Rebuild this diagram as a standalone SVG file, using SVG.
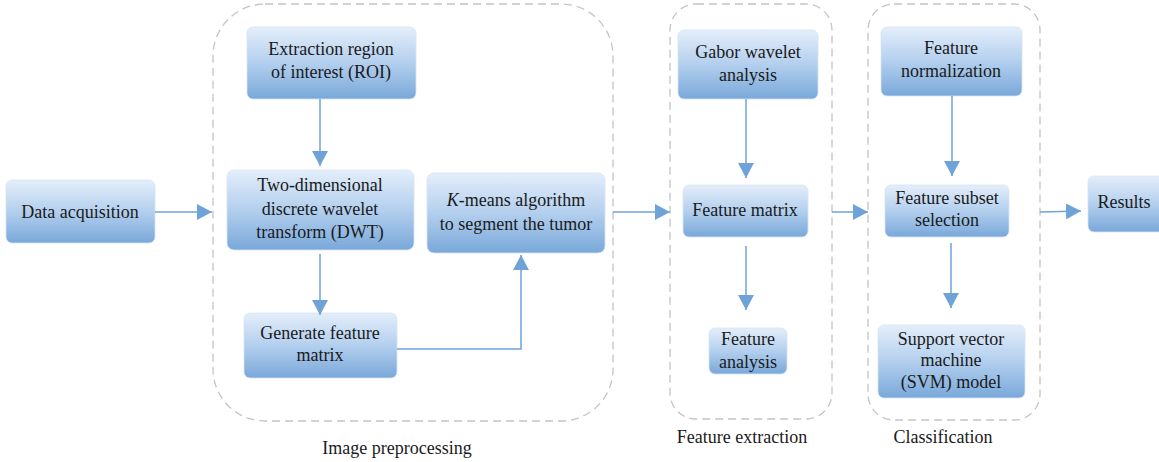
<svg xmlns="http://www.w3.org/2000/svg" width="1159" height="462" viewBox="0 0 1159 462">
<defs>
<linearGradient id="g" x1="0" y1="0" x2="0" y2="1">
<stop offset="0" stop-color="#e4eefa"/>
<stop offset="0.5" stop-color="#b3cfee"/>
<stop offset="1" stop-color="#79a8d9"/>
</linearGradient>
<marker id="ah" markerUnits="userSpaceOnUse" markerWidth="16" markerHeight="16" viewBox="0 0 16 16" refX="15" refY="8" orient="auto">
<path d="M0,0 L15,8 L0,16 Z" fill="#6fa3d8"/>
</marker>
<style>
.box{fill:url(#g);stroke:#d6e4f4;stroke-width:0.8}
.grp{fill:none;stroke:#c4c4c4;stroke-width:1.3;stroke-dasharray:8 5}
.t{font-family:"Liberation Serif","Times New Roman",serif;font-size:18px;fill:#1a1a1a;text-anchor:middle}
.c{fill:none;stroke:#6fa3d8;stroke-width:1.5;marker-end:url(#ah)}
</style>
</defs>
<rect width="1159" height="462" fill="#ffffff"/>

<g id="group-image-preprocessing">
<rect class="grp" x="213" y="4" width="400" height="417" rx="52"/>
<text class="t" x="397" y="454">Image preprocessing</text>
</g>
<g id="group-feature-extraction">
<rect class="grp" x="670" y="4" width="162" height="415" rx="26"/>
<text class="t" x="742" y="443">Feature extraction</text>
</g>
<g id="group-classification">
<rect class="grp" x="868" y="4" width="172" height="416" rx="26"/>
<text class="t" x="943" y="443">Classification</text>
</g>

<g id="node-data-acquisition">
<rect class="box" x="6" y="180" width="149" height="63" rx="6"/>
<text class="t" x="80" y="218">Data acquisition</text>
</g>
<g id="node-roi">
<rect class="box" x="247" y="27" width="169" height="72" rx="6"/>
<text class="t" x="331" y="55">Extraction region</text>
<text class="t" x="331" y="78">of interest (ROI)</text>
</g>
<g id="node-dwt">
<rect class="box" x="227" y="170" width="187" height="80" rx="7"/>
<text class="t" x="320" y="191">Two-dimensional</text>
<text class="t" x="320" y="215">discrete wavelet</text>
<text class="t" x="320" y="238">transform (DWT)</text>
</g>
<g id="node-kmeans">
<rect class="box" x="427" y="173" width="178" height="80" rx="7"/>
<text class="t" x="516" y="206"><tspan font-style="italic">K</tspan>-means algorithm</text>
<text class="t" x="516" y="230">to segment the tumor</text>
</g>
<g id="node-generate">
<rect class="box" x="244" y="313" width="153" height="65" rx="6"/>
<text class="t" x="320" y="339">Generate feature</text>
<text class="t" x="320" y="361">matrix</text>
</g>
<g id="node-gabor">
<rect class="box" x="678" y="30" width="140" height="69" rx="6"/>
<text class="t" x="748" y="58">Gabor wavelet</text>
<text class="t" x="748" y="81">analysis</text>
</g>
<g id="node-feature-matrix">
<rect class="box" x="683" y="185" width="125" height="52" rx="6"/>
<text class="t" x="745" y="216">Feature matrix</text>
</g>
<g id="node-feature-analysis">
<rect class="box" x="709" y="328" width="78" height="46" rx="6"/>
<text class="t" x="748" y="345">Feature</text>
<text class="t" x="748" y="368">analysis</text>
</g>
<g id="node-normalization">
<rect class="box" x="881" y="27" width="141" height="69" rx="6"/>
<text class="t" x="951" y="54">Feature</text>
<text class="t" x="951" y="77">normalization</text>
</g>
<g id="node-subset">
<rect class="box" x="885" y="185" width="124" height="52" rx="6"/>
<text class="t" x="947" y="204">Feature subset</text>
<text class="t" x="947" y="226">selection</text>
</g>
<g id="node-svm">
<rect class="box" x="878" y="325" width="147" height="73" rx="6"/>
<text class="t" x="951" y="345">Support vector</text>
<text class="t" x="951" y="366">machine</text>
<text class="t" x="951" y="388">(SVM) model</text>
</g>
<g id="node-results">
<rect class="box" x="1088" y="176" width="80" height="56" rx="6"/>
<text class="t" x="1124" y="208">Results</text>
</g>

<g id="connectors">
<path class="c" d="M155,212 L212,212"/>
<path class="c" d="M320,99 L320,166"/>
<path class="c" d="M320,254 L320,315"/>
<path class="c" d="M397,349 L521,349 L521,255"/>
<path class="c" d="M613,212 L670,212"/>
<path class="c" d="M746,99 L746,178"/>
<path class="c" d="M746,246 L746,310"/>
<path class="c" d="M832,212 L868,212"/>
<path class="c" d="M952,96 L952,176"/>
<path class="c" d="M951,243 L951,308"/>
<path class="c" d="M1040,212 L1081,211"/>
</g>
</svg>
